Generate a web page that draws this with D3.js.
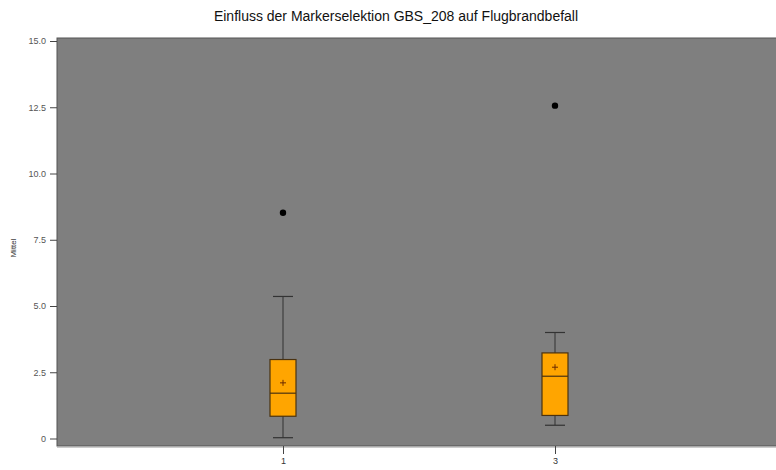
<!DOCTYPE html>
<html>
<head>
<meta charset="utf-8">
<script src="https://cdn.jsdelivr.net/npm/d3@7"></script>
<style>
  body { margin: 0; background: #fff; }
  svg { display: block; font-family: "Liberation Sans", Arial, sans-serif; }
</style>
</head>
<body>
<div id="chart"></div>
<script>
// Data
const categories = ["1", "3"];
const whiskerLow = [0.03, 0.5];
const q1 = [0.84, 0.87];
const median = [1.71, 2.35];
const q3 = [2.98, 3.23];
const whiskerHigh = [5.36, 4.0];
const means = [2.1, 2.69];
const outliers = [[8.52], [12.56]];
const yTicks = [0, 2.5, 5.0, 7.5, 10.0, 12.5, 15.0];

const width = 776, height = 470;
const plot = { left: 57, top: 38, right: 776, bottom: 446 };

const svg = d3.select("#chart").append("svg")
  .attr("width", width)
  .attr("height", height);

const y = d3.scaleLinear().domain([0, 15]).range([438.5, 41]);
const x = d3.scalePoint().domain(categories).range([283, 555]);

// plot background
svg.append("rect")
  .attr("x", plot.left)
  .attr("y", plot.top)
  .attr("width", plot.right - plot.left + 2)
  .attr("height", plot.bottom - plot.top)
  .attr("fill", "#7f7f7f")
  .attr("stroke", "#555")
  .attr("stroke-width", 1);

// light line under the plot
svg.append("line")
  .attr("x1", plot.left).attr("x2", plot.right)
  .attr("y1", plot.bottom + 1.5).attr("y2", plot.bottom + 1.5)
  .attr("stroke", "#ccc");

// y axis
svg.append("g")
  .attr("transform", `translate(${plot.left},0)`)
  .style("font-size", "9px")
  .call(d3.axisLeft(y)
    .tickValues(yTicks)
    .tickFormat(d => d === 0 ? "0" : d3.format(".1f")(d))
    .tickSize(7)
    .tickPadding(4))
  .call(g => g.select(".domain").remove())
  .call(g => g.selectAll(".tick line").attr("stroke", "#444"))
  .call(g => g.selectAll(".tick text").attr("fill", "#555"));

// x axis
svg.append("g")
  .attr("transform", `translate(0,${plot.bottom})`)
  .style("font-size", "9px")
  .call(d3.axisBottom(x).tickSize(8).tickPadding(4))
  .call(g => g.select(".domain").remove())
  .call(g => g.selectAll(".tick line").attr("stroke", "#444"))
  .call(g => g.selectAll(".tick text").attr("fill", "#333"));

// boxes
const boxW = 26;
const data = categories.map((c, i) => ({
  c, lo: whiskerLow[i], q1: q1[i], med: median[i], q3: q3[i],
  hi: whiskerHigh[i], mean: means[i], out: outliers[i]
}));

const box = svg.selectAll("g.box")
  .data(data)
  .join("g")
  .attr("class", "box")
  .attr("transform", d => `translate(${x(d.c)},0)`);

// whisker lines
box.append("line")
  .attr("x1", 0).attr("x2", 0)
  .attr("y1", d => y(d.hi)).attr("y2", d => y(d.lo))
  .attr("stroke", "#333").attr("stroke-width", 1);

// whisker caps
box.selectAll("line.cap")
  .data(d => [d.lo, d.hi])
  .join("line")
  .attr("class", "cap")
  .attr("x1", -boxW / 2 + 3).attr("x2", boxW / 2 - 3)
  .attr("y1", v => y(v)).attr("y2", v => y(v))
  .attr("stroke", "#333").attr("stroke-width", 1.2);

box.append("rect")
  .attr("x", -boxW / 2)
  .attr("y", d => y(d.q3))
  .attr("width", boxW)
  .attr("height", d => y(d.q1) - y(d.q3))
  .attr("fill", "#ffa500")
  .attr("stroke", "#4a3210")
  .attr("stroke-width", 1.2);

box.append("line")
  .attr("x1", -boxW / 2).attr("x2", boxW / 2)
  .attr("y1", d => y(d.med)).attr("y2", d => y(d.med))
  .attr("stroke", "#4a3210").attr("stroke-width", 1.2);

// mean marker "+"
box.append("path")
  .attr("d", d => `M-3,${y(d.mean)}H3M0,${y(d.mean) - 3}V${y(d.mean) + 3}`)
  .attr("stroke", "#6b2a00").attr("stroke-width", 1);

// outliers
box.selectAll("circle")
  .data(d => d.out)
  .join("circle")
  .attr("cx", 0)
  .attr("cy", v => y(v))
  .attr("r", 3.2)
  .attr("fill", "#000");

// title
svg.append("text")
  .attr("x", 396)
  .attr("y", 21)
  .attr("text-anchor", "middle")
  .style("font-size", "14px")
  .attr("fill", "#111")
  .text("Einfluss der Markerselektion GBS_208 auf Flugbrandbefall");

// y label
svg.append("text")
  .attr("transform", "translate(16,248) rotate(-90)")
  .attr("text-anchor", "middle")
  .style("font-size", "8px")
  .attr("fill", "#333")
  .text("Mittel");
</script>
</body>
</html>
